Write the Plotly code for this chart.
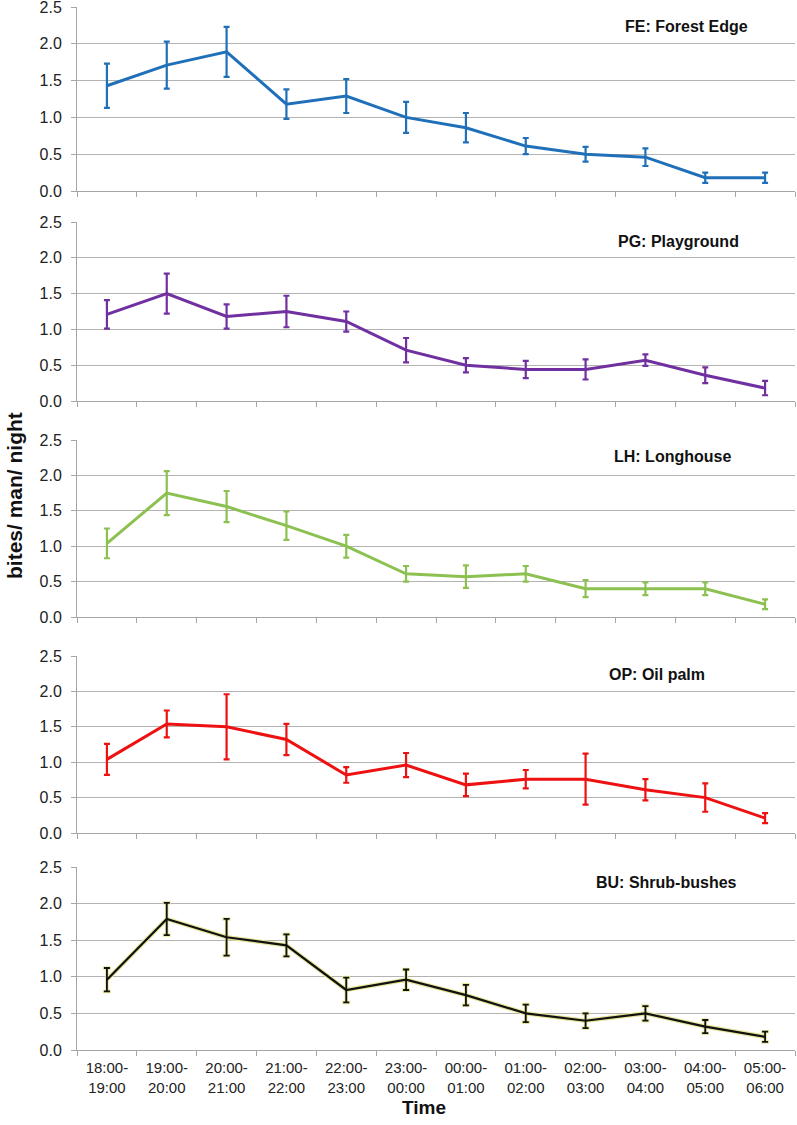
import plotly.graph_objects as go

times = ["18:00-<br>19:00", "19:00-<br>20:00", "20:00-<br>21:00", "21:00-<br>22:00",
         "22:00-<br>23:00", "23:00-<br>00:00", "00:00-<br>01:00", "01:00-<br>02:00",
         "02:00-<br>03:00", "03:00-<br>04:00", "04:00-<br>05:00", "05:00-<br>06:00"]

fe_mean = [1.43, 1.71, 1.89, 1.18, 1.29, 1.00, 0.86, 0.61, 0.50, 0.46, 0.18, 0.18]
fe_err = [0.30, 0.32, 0.34, 0.20, 0.23, 0.21, 0.20, 0.11, 0.10, 0.12, 0.07, 0.07]

pg_mean = [1.21, 1.50, 1.18, 1.25, 1.11, 0.71, 0.50, 0.44, 0.44, 0.57, 0.36, 0.18]
pg_err = [0.20, 0.28, 0.17, 0.22, 0.14, 0.17, 0.10, 0.12, 0.14, 0.08, 0.11, 0.10]

lh_mean = [1.04, 1.75, 1.56, 1.29, 1.00, 0.61, 0.57, 0.61, 0.40, 0.40, 0.40, 0.18]
lh_err = [0.21, 0.31, 0.22, 0.20, 0.16, 0.11, 0.16, 0.11, 0.12, 0.09, 0.09, 0.07]

op_mean = [1.04, 1.54, 1.50, 1.32, 0.82, 0.96, 0.68, 0.76, 0.76, 0.61, 0.50, 0.21]
op_err = [0.22, 0.19, 0.46, 0.22, 0.11, 0.17, 0.16, 0.13, 0.36, 0.15, 0.20, 0.07]

bu_mean = [0.96, 1.79, 1.54, 1.43, 0.82, 0.96, 0.75, 0.50, 0.40, 0.50, 0.32, 0.18]
bu_err = [0.16, 0.22, 0.25, 0.15, 0.17, 0.14, 0.14, 0.12, 0.10, 0.10, 0.09, 0.07]

panel_titles = ["FE: Forest Edge", "PG: Playground", "LH: Longhouse", "OP: Oil palm", "BU: Shrub-bushes"]
panel_colors = ["#1f70b8", "#7030a0", "#8cc152", "#ee1111", "#111111"]
panel_means = [fe_mean, pg_mean, lh_mean, op_mean, bu_mean]
panel_errs = [fe_err, pg_err, lh_err, op_err, bu_err]

W, H = 797, 1125
mt, mb, ml, mr = 7, 75, 77, 2
plot_h = H - mt - mb
# pixel (top, bottom) of each panel
panel_px = [(7, 191), (222, 401), (440, 617), (656, 833), (867, 1050)]
title_px = [(686, 26), (678, 242), (672, 457), (657, 674), (666, 882)]

def py(p):
    return (H - mb - p) / plot_h

def px(p):
    return (p - ml) / (W - ml - mr)

fig = go.Figure()
ytick_font = dict(family="Liberation Sans, Arial, sans-serif", size=16, color="#222")
xtick_font = dict(family="Liberation Sans, Arial, sans-serif", size=15, color="#222")

for i in range(5):
    ax = "" if i == 0 else str(i + 1)
    xa = "x" + ax
    ya = "y" + ax
    col = panel_colors[i]
    if i == 4:
        # pale yellow halo under the black line
        fig.add_trace(go.Scatter(
            x=times, y=panel_means[i], mode="lines",
            line=dict(color="#e6e69a", width=4.5),
            error_y=dict(type="data", array=panel_errs[i], color="#e6e69a", thickness=3.5, width=4),
            xaxis=xa, yaxis=ya, showlegend=False, hoverinfo="skip"))
    fig.add_trace(go.Scatter(
        x=times, y=panel_means[i], mode="lines",
        line=dict(color=col, width=3 if i < 4 else 2.2),
        error_y=dict(type="data", array=panel_errs[i], color=col, thickness=2.2 if i < 4 else 1.8, width=3),
        xaxis=xa, yaxis=ya, showlegend=False))
    top, bot = panel_px[i]
    fig.layout["xaxis" + ax] = dict(
        domain=[0, 1], anchor=ya, type="category", range=[-0.5, 11.5],
        showgrid=False, showline=True, linecolor="#a6a6a6", linewidth=1,
        ticks="outside", tickson="boundaries", ticklen=5, tickcolor="#a6a6a6",
        showticklabels=(i == 4), tickfont=xtick_font, tickangle=0,
        ticklabelstandoff=4, automargin=False,
        matches="x" if i > 0 else None,
    )
    fig.layout["yaxis" + ax] = dict(
        domain=[py(bot), py(top)], anchor=xa, range=[0, 2.5],
        tickvals=[0, 0.5, 1.0, 1.5, 2.0, 2.5], ticktext=["0.0", "0.5", "1.0", "1.5", "2.0", "2.5"],
        showgrid=True, gridcolor="#b3b3b3", gridwidth=1,
        showline=True, linecolor="#a6a6a6", linewidth=1,
        ticks="outside", ticklen=5, tickcolor="#a6a6a6",
        ticklabelstandoff=6, ticklabeloverflow="allow", automargin=False,
        tickfont=ytick_font, zeroline=False,
    )
    tx, ty = title_px[i]
    fig.add_annotation(text="<b>" + panel_titles[i] + "</b>", xref="paper", yref="paper",
                       x=px(tx), y=py(ty), xanchor="center", yanchor="middle", showarrow=False,
                       font=dict(family="Liberation Sans, Arial, sans-serif", size=16, color="#111"))

fig.add_annotation(text="<b>bites/ man/ night</b>", xref="paper", yref="paper",
                   x=px(14), y=py(496), xanchor="center", yanchor="middle", textangle=-90,
                   showarrow=False, font=dict(family="Liberation Sans, Arial, sans-serif", size=21, color="#111"))
fig.add_annotation(text="<b>Time</b>", xref="paper", yref="paper",
                   x=px(424), y=py(1107), xanchor="center", yanchor="middle",
                   showarrow=False, font=dict(family="Liberation Sans, Arial, sans-serif", size=19, color="#111"))

fig.update_layout(width=W, height=H, margin=dict(l=ml, r=mr, t=mt, b=mb),
                  plot_bgcolor="white", paper_bgcolor="white", showlegend=False)

fig.write_html("out.html", config={"displayModeBar": False},
               post_script="document.body.style.margin='0';")
